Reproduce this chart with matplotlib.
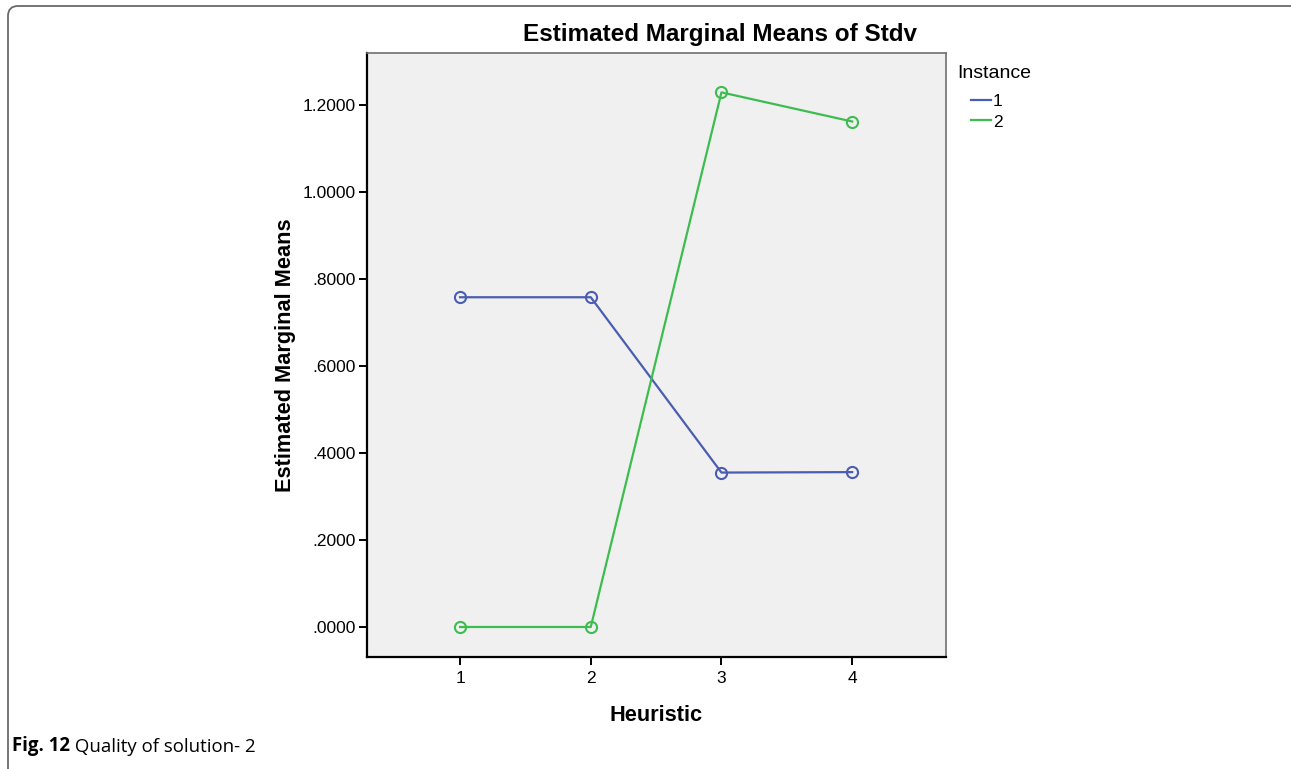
import matplotlib
matplotlib.use("Agg")
import matplotlib.pyplot as plt
from matplotlib.patches import FancyBboxPatch

# ---- data ----
heuristic = [1, 2, 3, 4]
instance_1 = [0.758, 0.758, 0.355, 0.356]
instance_2 = [0.000, 0.000, 1.229, 1.162]
series_labels = ["1", "2"]
y_ticks = [0.0, 0.2, 0.4, 0.6, 0.8, 1.0, 1.2]
y_tick_labels = [".0000", ".2000", ".4000", ".6000", ".8000", "1.0000", "1.2000"]
x_tick_labels = ["1", "2", "3", "4"]

plt.rcParams['font.family'] = ['Liberation Sans', 'DejaVu Sans']

fig = plt.figure(figsize=(12.91, 7.69), dpi=100)
ax = fig.add_axes([367/1291, 1-657/769, (946-367)/1291, (657-53)/769])
ax.set_facecolor('#f0f0f0')

blue = '#4a5db0'
green = '#3dbd4f'
ax.plot(heuristic, instance_1, color=blue, lw=1.6, marker='o', ms=8,
        mfc='none', mec=blue, mew=1.5, label=series_labels[0])
ax.plot(heuristic, instance_2, color=green, lw=1.6, marker='o', ms=8,
        mfc='none', mec=green, mew=1.5, label=series_labels[1])

ax.set_xlim(0.288, 4.718)
ax.set_ylim(-0.069, 1.3195)
ax.set_xticks(heuristic)
ax.set_xticklabels(x_tick_labels)
ax.set_yticks(y_ticks)
ax.set_yticklabels(y_tick_labels)
ax.tick_params(direction='out', length=6, width=1.4, labelsize=12.5, colors='black', pad=2)
ax.tick_params(axis='x', pad=4)
for side in ['left', 'bottom']:
    ax.spines[side].set_linewidth(1.6)
    ax.spines[side].set_color('black')
for side in ['top', 'right']:
    ax.spines[side].set_linewidth(1.2)
    ax.spines[side].set_color('#707070')

fig.text(720/1291, 1-35/769, "Estimated Marginal Means of Stdv", fontsize=17.5,
         fontweight='bold', ha='center', va='center')
ax.set_xlabel("Heuristic", fontsize=15.7, fontweight='bold', labelpad=14)
ax.set_ylabel("Estimated Marginal Means", fontsize=15.7, fontweight='bold', labelpad=5)

fig.text(957/1291, 1-73/769, "Instance", fontsize=14, ha='left', va='center')
leg = ax.legend(loc='upper left', bbox_to_anchor=(971/1291, 1-94/769),
                bbox_transform=fig.transFigure, frameon=False, handlelength=1.15,
                handletextpad=0.1, fontsize=12.5, labelspacing=0.3,
                borderpad=0, borderaxespad=0)
for h in leg.legend_handles:
    h.set_marker('')

# outer frame with rounded top-left corner
frame = FancyBboxPatch((8, -30), 1320, 763+30, boxstyle="round,pad=0,rounding_size=10",
                       transform=None, fill=False, edgecolor='#6a6a6a', lw=1.3, clip_on=False)
fig.patches.append(frame)

t1 = fig.text(12/1291, 1-751/769, "Fig. 12", fontsize=13.4, fontweight='bold',
              family=['Open Sans', 'DejaVu Sans'], va='baseline', ha='left')
fig.canvas.draw()
ax.annotate(" Quality of solution- 2", xy=(1, 0), xycoords=t1, va='bottom', ha='left',
            fontsize=13.4, family=['Open Sans', 'DejaVu Sans'], annotation_clip=False)

fig.savefig("out.png", dpi=100)
